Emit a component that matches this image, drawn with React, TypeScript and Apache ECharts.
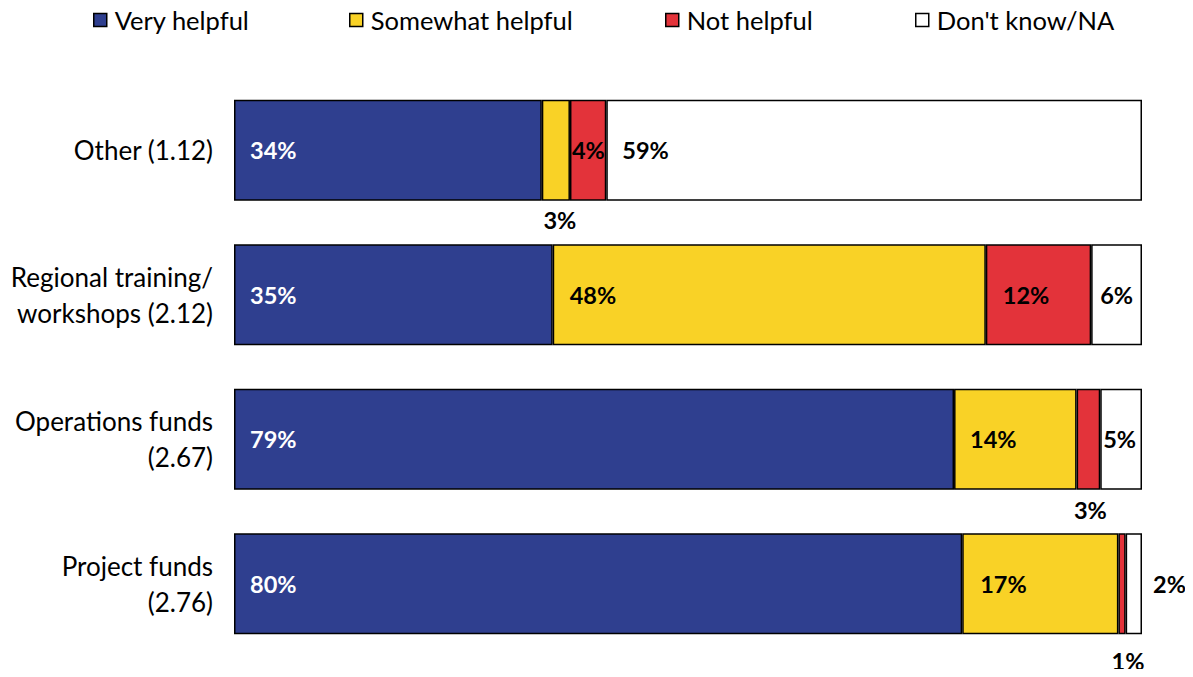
import React, { useEffect, useRef } from "react";
import * as echarts from "echarts";

const categories = [
  "Other (1.12)",
  "Regional training/\nworkshops (2.12)",
  "Operations funds\n(2.67)",
  "Project funds\n(2.76)",
];
const seriesNames = ["Very helpful", "Somewhat helpful", "Not helpful", "Don't know/NA"];
const veryHelpful = [33.9, 35.1, 79.3, 80.2];
const somewhatHelpful = [3.1, 47.7, 13.5, 17.2];
const notHelpful = [4.0, 11.6, 2.6, 0.8];
const dontKnow = [59.0, 5.6, 4.6, 1.8];
const colors = ["#2F3F8F", "#F9D226", "#E3333A", "#FFFFFF"];

// label placement per series / category (style only)
const labelPlacement: any[][] = [
  [
    { position: "insideLeft", distance: 16 },
    { position: "insideLeft", distance: 16 },
    { position: "insideLeft", distance: 16 },
    { position: "insideLeft", distance: 16 },
  ],
  [
    { position: "bottom", distance: 7, offset: [4, 0] },
    { position: "insideLeft", distance: 17 },
    { position: "insideLeft", distance: 16 },
    { position: "insideLeft", distance: 18 },
  ],
  [
    { position: "insideLeft", distance: 2 },
    { position: "insideLeft", distance: 17 },
    { position: "bottom", distance: 8, offset: [2, 0] },
    { position: "bottom", distance: 15, offset: [6, 0] },
  ],
  [
    { position: "insideLeft", distance: 16 },
    { position: "insideLeft", distance: 9 },
    { position: "insideLeft", distance: 3 },
    { position: "right", distance: 11 },
  ],
];

const FONT = "Lato, 'Open Sans', sans-serif";

export default function App() {
  const ref = useRef<HTMLDivElement>(null);
  useEffect(() => {
    if (!ref.current) return;
    const chart = echarts.init(ref.current, undefined, { renderer: "svg" });
    const allData = [veryHelpful, somewhatHelpful, notHelpful, dontKnow];
    const legendLefts = [93, 349, 665, 915];
    chart.setOption({
      animation: false,
      textStyle: { fontFamily: FONT },
      legend: seriesNames.map((n, i) => ({
        data: [n],
        left: legendLefts[i],
        top: 7,
        padding: 0,
        itemWidth: 13,
        itemHeight: 13,
        itemGap: 6,
        icon: "rect",
        textStyle: { fontFamily: FONT, fontSize: 25.5, color: "#000", padding: [0, 0, 0, 3] },
        itemStyle: { borderColor: "#000", borderWidth: 1.5 },
      })),
      grid: { left: 234, right: 51, top: 78, bottom: 21, containLabel: false },
      xAxis: {
        type: "value",
        min: 0,
        max: 100,
        show: false,
      },
      yAxis: {
        type: "category",
        data: categories,
        inverse: true,
        axisLine: { show: false },
        axisTick: { show: false },
        axisLabel: {
          fontFamily: FONT,
          fontSize: 26,
          color: "#000",
          margin: 21,
          lineHeight: 36,
        },
      },
      series: seriesNames.map((name, si) => ({
        name,
        type: "bar",
        stack: "total",
        barWidth: 101,
        itemStyle: { color: colors[si], borderColor: "#000", borderWidth: 1.5 },
        label: {
          show: true,
          fontFamily: FONT,
          fontSize: 23.5,
          fontWeight: "bold",
          color: si === 0 ? "#fff" : "#000",
          formatter: (p: any) => Math.round(p.value) + "%",
        },
        data: allData[si].map((v, ci) => ({
          value: v,
          label: labelPlacement[si][ci],
        })),
      })),
    });
    return () => chart.dispose();
  }, []);
  return <div ref={ref} style={{ width: 1193, height: 677, margin: -8 }} />;
}
